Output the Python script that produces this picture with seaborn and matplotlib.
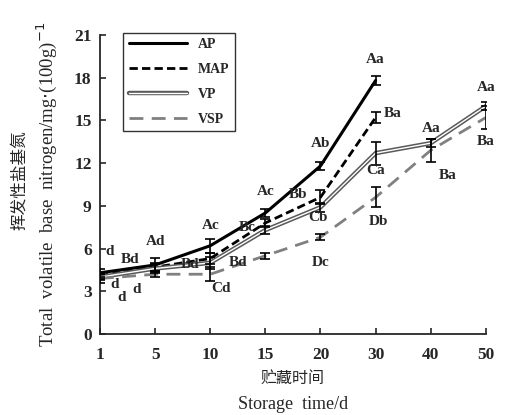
import numpy as np
import pandas as pd
import matplotlib
matplotlib.use("Agg")
import matplotlib.pyplot as plt
import matplotlib.patheffects as pe
import seaborn as sns

# storage days (equally spaced categories)
days = ["1", "5", "10", "15", "20", "30", "40", "50"]

ap = [4.3, 4.85, 6.2, 8.5, 11.8, 17.8]
ap_err = [0.3, 0.5, 0.5, 0.3, 0.3, 0.3]
map_ = [4.1, 4.7, 5.3, 7.8, 9.6, 15.2]
map_err = [0.2, 0.3, 0.4, 0.3, 0.5, 0.4]
vp = [4.0, 4.6, 5.0, 7.3, 8.9, 12.7, 13.4, 16.0]
vp_err = [0.2, 0.3, 0.4, 0.3, 0.3, 0.8, 0.3, 0.3]
vsp = [3.9, 4.2, 4.2, 5.5, 6.8, 9.6, 12.9, 15.2]
vsp_err = [0.3, 0.2, 0.5, 0.2, 0.2, 0.7, 0.8, 0.8]

# significance letters: (text, x position, y value)
letters = [
    ("d", 0.18, 5.8), ("Bd", 0.55, 5.2), ("d", 0.27, 3.5), ("d", 0.4, 2.6),
    ("d", 0.67, 3.1), ("Ad", 1.0, 6.5), ("Bd", 1.64, 4.85), ("Ac", 2.0, 7.65),
    ("Bd", 2.5, 5.05), ("Cd", 2.2, 3.2), ("Bc", 2.67, 7.5), ("Ac", 3.0, 10.0),
    ("Bb", 3.6, 9.8), ("Cb", 3.95, 8.15), ("Dc", 4.0, 5.05), ("Ab", 4.0, 13.4),
    ("Aa", 5.0, 19.3), ("Ba", 5.3, 15.5), ("Ca", 5.0, 11.45), ("Db", 5.05, 7.9),
    ("Aa", 6.0, 14.4), ("Ba", 6.3, 11.1), ("Aa", 7.0, 17.3), ("Ba", 7.0, 13.55),
]

sns.set_style("ticks")
plt.rcParams["font.family"] = ["Liberation Serif", "Noto Sans CJK SC"]

fig = plt.figure(figsize=(5.18, 4.15), dpi=100)
ax = fig.add_axes([0.193, 0.195, 0.745, 0.721])

series = [
    ("AP", ap, ap_err, dict(color="black", lw=2.2, ls="-")),
    ("MAP", map_, map_err, dict(color="black", lw=2.0, ls=(0, (3, 1.5)))),
    ("VP", vp, vp_err, dict(color="white", lw=1.0, ls="-",
                            path_effects=[pe.Stroke(linewidth=3.2, foreground="0.35"), pe.Normal()])),
    ("VSP", vsp, vsp_err, dict(color="0.5", lw=2.0, ls=(0, (5, 3)))),
]

for name, vals, errs, style in series:
    df = pd.DataFrame({"day": days[:len(vals)], "v": vals})
    xs = np.arange(len(vals))
    ax.errorbar(xs, vals, yerr=errs, fmt="none", ecolor="black", elinewidth=1.2,
                capsize=3.5, capthick=1.2, zorder=3)
    sns.lineplot(data=df, x=xs, y="v", ax=ax, label=name, sort=False, zorder=2, **style)

for t, x, y in letters:
    ax.text(x, y, t, ha="center", va="center", fontsize=11, fontweight="bold")

ax.set_xlim(0, 7)
ax.set_ylim(0, 21)
ax.set_xticks(range(len(days)))
ax.set_xticklabels(days)
ax.set_yticks(range(0, 22, 3))
ax.tick_params(direction="in", length=4, width=1.2, labelsize=12.5)
ax.tick_params(axis="x", pad=9)
ax.tick_params(axis="y", pad=6)
for lbl in ax.get_xticklabels() + ax.get_yticklabels():
    lbl.set_fontweight("bold")
sns.despine(ax=ax)
for s in ["left", "bottom"]:
    ax.spines[s].set_linewidth(1.3)

ax.set_xlabel("")
ax.set_ylabel("")
fig.text(0.565, 0.085, "贮藏时间", ha="center", va="center", fontsize=11.5,
         family=["Noto Sans CJK SC"])
fig.text(0.565, 0.025, "Storage  time/d", ha="center", va="center", fontsize=13)
fig.text(0.037, 0.565, "挥发性盐基氮", ha="center", va="center", rotation=90,
         fontsize=12, family=["Noto Sans CJK SC"])
fig.text(0.09, 0.555, "Total  volatile  base  nitrogen/mg$\\cdot$(100g)$^{-1}$",
         ha="center", va="center", rotation=90, fontsize=13.5)

leg = ax.legend(loc="upper left", bbox_to_anchor=(0.06, 1.007), borderaxespad=0,
                frameon=True, fancybox=False, edgecolor="black", handlelength=4.2,
                labelspacing=0.85, prop={"weight": "bold", "size": 10})
leg.get_frame().set_linewidth(1.0)

fig.savefig("out.png", dpi=100)
